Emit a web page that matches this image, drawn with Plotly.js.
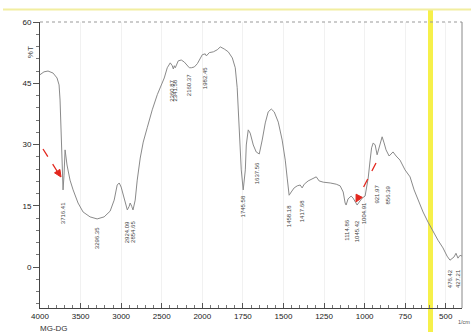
<!DOCTYPE html>
<html><head><meta charset="utf-8">
<script src="https://cdn.plot.ly/plotly-3.0.1.min.js"></script>
<style>html,body{margin:0;padding:0;background:#fff;}#c{width:471px;height:332px;}</style>
</head><body><div id="c"></div>
<script>
// Spectrum (wavenumber 1/cm, %T)
const wavenumber = [4000,3951,3901,3839,3790,3765,3753,3741,3728,3716,3704,3691,3667,3630,3592,3531,3469,3383,3296,3210,3136,3086,3049,3024,3000,2963,2938,2924,2901,2889,2870,2854,2827,2802,2765,2728,2679,2617,2555,2518,2469,2432,2395,2370,2357,2345,2333,2296,2259,2222,2185,2160,2135,2098,2061,2024,2000,1982,1975,1957,1932,1908,1889,1865,1840,1815,1797,1785,1778,1772,1766,1760,1748,1735,1729,1717,1705,1686,1668,1649,1631,1612,1594,1575,1557,1532,1508,1489,1477,1465,1452,1434,1415,1397,1385,1372,1348,1323,1298,1280,1255,1212,1175,1151,1132,1120,1114,1102,1083,1071,1052,1046,1034,1015,997,978,966,957,947,935,923,911,892,880,868,849,837,825,806,782,751,720,695,671,640,609,578,548,517,492,474,462,449,437,425,412,400];
const transmittance = [47.1,47.8,48.0,47.5,46.3,44.6,40.9,33.6,24.0,18.9,22.5,28.7,25.0,21.3,18.9,15.7,13.5,12.3,11.8,12.3,13.7,16.4,20.1,20.6,19.6,16.9,14.5,14.0,14.9,15.7,14.9,14.0,16.4,21.3,26.7,30.6,34.1,38.5,42.2,43.9,46.3,48.8,50.0,49.3,48.5,49.3,48.8,50.5,50.7,50.2,49.5,48.8,48.8,49.0,49.8,51.2,52.0,52.2,51.7,52.5,52.7,53.2,53.9,53.4,52.7,51.2,48.8,43.9,38.5,33.6,28.7,23.8,18.9,23.8,29.9,33.6,32.8,29.9,28.2,27.7,31.1,35.3,38.0,38.7,38.0,35.5,31.1,26.2,21.8,17.6,18.4,19.4,19.9,20.1,19.4,20.3,21.1,21.6,22.1,21.1,20.8,20.6,20.3,19.9,18.4,15.7,15.2,16.7,17.4,16.9,15.4,15.2,15.9,16.9,17.4,21.8,26.2,29.2,30.4,29.9,27.5,29.2,31.9,30.4,28.7,27.2,27.7,28.2,27.2,26.2,23.8,22.1,18.9,16.4,13.5,11.0,8.6,6.6,4.7,2.7,1.7,2.2,2.5,3.4,2.2,2.9,2.7];

// Peak labels
const peakWn   = [3716,3296,2924,2854,2375,2341,2160,1982,1748,1662,1465,1385,1114,1046,1003,923,856,477,428];
const peakText = ['3716.41','3296.35','2924.09','2854.65','2360.87','2341.58','2160.37','1982.45','1745.58','1637.56','1458.18','1417.68','1114.86','1045.42','1004.91','921.97','856.39','476.42','427.21'];
const peakTop  = [16.4,10.3,11.8,11.8,46.3,46.3,47.8,49.5,18.1,26.2,15.7,16.9,12.0,12.0,16.4,20.6,20.6,0,0];

// Axis ticks
const xTickWn = [4000,3500,3000,2500,2000,1750,1500,1250,1000,750,500];
const xTickText = ['4000','3500','3000','2500','2000','1750','1500','1250','1000','750','500'];
const yTickVals = [0,15,30,45,60];
const sampleName = 'MG-DG';

// FTIR scale: compressed above 2000 1/cm (factor 2 change)
const u = w => (w >= 2000 ? w : 2*w - 2000);

// pixel -> paper helpers (plot area 40..462 x 22..308)
const PX = x => (x - 40) / 422;
const PY = y => (308 - y) / 286;

function arrowHead(tx, ty, fx, fy, len, half) {
  const dx = tx - fx, dy = ty - fy, L = Math.hypot(dx, dy);
  const ux = dx / L, uy = dy / L;
  const bx = tx - ux * len, by = ty - uy * len;
  const p1 = [bx - uy * half, by + ux * half], p2 = [bx + uy * half, by - ux * half];
  return 'M ' + PX(tx) + ',' + PY(ty) + ' L ' + PX(p1[0]) + ',' + PY(p1[1]) + ' L ' + PX(p2[0]) + ',' + PY(p2[1]) + ' Z';
}

const trace = {
  x: wavenumber.map(u), y: transmittance, type: 'scatter', mode: 'lines',
  line: {color: '#8a8a8a', width: 1}, hoverinfo: 'skip'
};

const annotations = peakWn.map((w, i) => ({
  x: u(w), y: peakTop[i], xref: 'x', yref: 'y', text: peakText[i], showarrow: false,
  textangle: -90, xanchor: 'center', yanchor: 'top',
  font: {family: 'Liberation Sans, Arial', size: 6, color: '#444'}
}));
annotations.push({xref: 'paper', yref: 'y', x: PX(24), y: 52.5, text: '%T', showarrow: false,
  textangle: -90, font: {family: 'Liberation Sans, Arial', size: 8, color: '#444'}});
annotations.push({xref: 'paper', yref: 'paper', x: PX(38), y: PY(328), xanchor: 'left', yanchor: 'middle',
  text: sampleName, showarrow: false, font: {family: 'Liberation Sans, Arial', size: 8, color: '#333'}});
annotations.push({xref: 'paper', yref: 'paper', x: PX(464), y: PY(322), xanchor: 'center', yanchor: 'middle',
  text: '1/cm', showarrow: false, font: {family: 'Liberation Sans, Arial', size: 5.5, color: '#555'}});

const shapes = [
  {type: 'rect', xref: 'paper', yref: 'paper', x0: PX(428), x1: PX(433), y0: PY(332), y1: PY(9),
   fillcolor: '#f6f04a', line: {width: 0}, layer: 'below'},
  {type: 'line', xref: 'paper', yref: 'paper', x0: PX(3), x1: PX(471), y0: PY(9.5), y1: PY(9.5),
   line: {color: '#f2eea0', width: 2}, layer: 'below'},
  {type: 'line', xref: 'paper', yref: 'paper', x0: 0, x1: 1, y0: 1, y1: 1, line: {color: '#999', width: 1, dash: 'dot'}},
  {type: 'line', xref: 'paper', yref: 'paper', x0: 1, x1: 1, y0: 0, y1: 1, line: {color: '#888', width: 1}},
  {type: 'line', xref: 'paper', yref: 'paper', x0: PX(43), y0: PY(149), x1: PX(57), y1: PY(171),
   line: {color: '#e3261d', width: 1.3, dash: 'dash'}},
  {type: 'path', xref: 'paper', yref: 'paper', path: arrowHead(61, 177, 43, 149, 7, 3.2),
   fillcolor: '#e3261d', line: {color: '#e3261d', width: 1}},
  {type: 'line', xref: 'paper', yref: 'paper', x0: PX(376), y0: PY(163), x1: PX(360), y1: PY(194),
   line: {color: '#e3261d', width: 1.3, dash: 'dash'}},
  {type: 'path', xref: 'paper', yref: 'paper', path: arrowHead(356, 202, 376, 163, 7, 3.5),
   fillcolor: '#e3261d', line: {color: '#e3261d', width: 1}}
];

const layout = {
  width: 471, height: 332,
  margin: {l: 40, r: 9, t: 22, b: 24},
  paper_bgcolor: '#ffffff', plot_bgcolor: 'rgba(0,0,0,0)',
  showlegend: false,
  font: {family: 'Liberation Sans, Arial', size: 8, color: '#222'},
  xaxis: {
    range: [u(4000), u(400)], tickmode: 'array', tickvals: xTickWn.map(u), ticktext: xTickText,
    ticks: 'inside', ticklen: 5, tickcolor: '#555', showline: true, linecolor: '#444', linewidth: 1,
    showgrid: true, gridcolor: '#f1f1f1', zeroline: false,
    tickfont: {family: 'Liberation Sans, Arial', size: 8, color: '#222'},
    minor: {tickmode: 'linear', tick0: 0, dtick: 100, ticks: 'inside', ticklen: 3, tickcolor: '#777', showgrid: false}
  },
  yaxis: {
    range: [-10, 60], tickmode: 'array', tickvals: yTickVals, ticktext: yTickVals.map(String),
    ticks: 'outside', ticklen: 6, tickcolor: '#555', showline: true, linecolor: '#444', linewidth: 1,
    showgrid: false, zeroline: false,
    tickfont: {family: 'Liberation Sans, Arial', size: 8, color: '#222'},
    minor: {tickmode: 'linear', tick0: 0, dtick: 3, ticks: 'outside', ticklen: 3, tickcolor: '#777', showgrid: false}
  },
  annotations: annotations,
  shapes: shapes
};

Plotly.newPlot('c', [trace], layout, {staticPlot: true, displayModeBar: false});
</script></body></html>
